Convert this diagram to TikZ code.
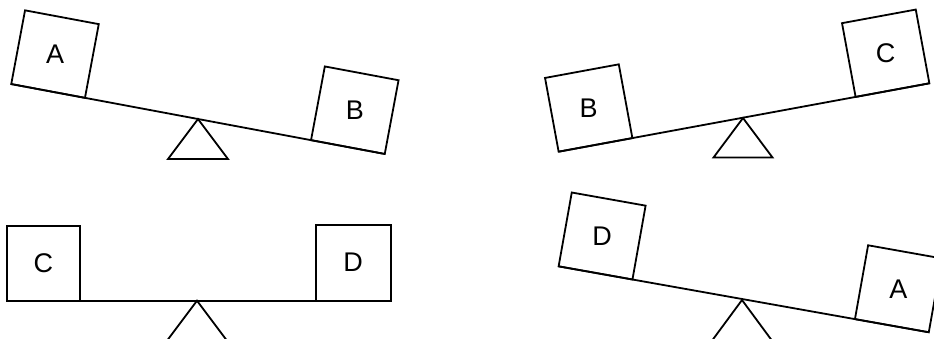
\documentclass[tikz,border=0pt]{standalone}
\usepackage{fontspec}
\setmainfont{Liberation Sans}
\begin{document}
\begin{tikzpicture}[x=1pt,y=-1pt,
  beam/.style={line width=1.8pt},
  boxpart/.style={line width=1.8pt},
  lab/.style={font=\fontsize{27}{27}\selectfont, inner sep=0pt}]
\useasboundingbox (0,0) rectangle (934,338);
\clip (0,0) rectangle (934,338);
% Panel 1
\begin{scope}[shift={(198,119)},rotate=-10.6]
  \draw[beam] (-190,0) coordinate (p1l) -- (190,0) coordinate (p1r);
  \draw[boxpart] (-190,0) rectangle (-115,-75);
  \node[lab] (a1) at (-152.5,-37.5) {A};
  \draw[boxpart] (115,0) rectangle (190,-75);
  \node[lab] (b1) at (152.5,-37.5) {B};
\end{scope}
\coordinate (f1) at (198,119);
\draw[beam] (f1) -- ++(30,40) -- ++(-60,0) -- cycle;
% Panel 2
\begin{scope}[shift={(744,117.5)},rotate=10.45]
  \draw[beam] (-188.5,0) coordinate (p2l) -- (188.5,0) coordinate (p2r);
  \draw[boxpart] (-188.5,0) rectangle (-113.5,-75);
  \node[lab] (b2) at (-151,-37.5) {B};
  \draw[boxpart] (113.5,0) rectangle (188.5,-75);
  \node[lab] (c2) at (151,-37.5) {C};
\end{scope}
\coordinate (f2) at (743,118);
\draw[beam] (f2) -- ++(29.5,39.5) -- ++(-59,0) -- cycle;
% Panel 3
\begin{scope}[shift={(198.7,300.7)}]
  \draw[beam] (-192,0) coordinate (p3l) -- (192,0) coordinate (p3r);
  \draw[boxpart] (-192,0) rectangle (-118.5,-75);
  \node[lab] (c3) at (-155.25,-38) {C};
  \draw[boxpart] (117,0) rectangle (192,-76);
  \node[lab] (d3) at (154.5,-38) {D};
\end{scope}
\coordinate (f3) at (197,300.7);
\draw[beam] (f3) -- ++(30,40) -- ++(-60,0) -- cycle;
% Panel 4
\begin{scope}[shift={(743.7,299.3)},rotate=-10.1]
  \draw[beam] (-188,0) coordinate (p4l) -- (188,0) coordinate (p4r);
  \draw[boxpart] (-188,0) rectangle (-113,-75);
  \node[lab] (d4) at (-150.5,-37.5) {D};
  \draw[boxpart] (113,0) rectangle (188,-75);
  \node[lab] (a4) at (150.5,-37.5) {A};
\end{scope}
\coordinate (f4) at (742,300);
\draw[beam] (f4) -- ++(29.5,40) -- ++(-59,0) -- cycle;
\end{tikzpicture}
\end{document}
